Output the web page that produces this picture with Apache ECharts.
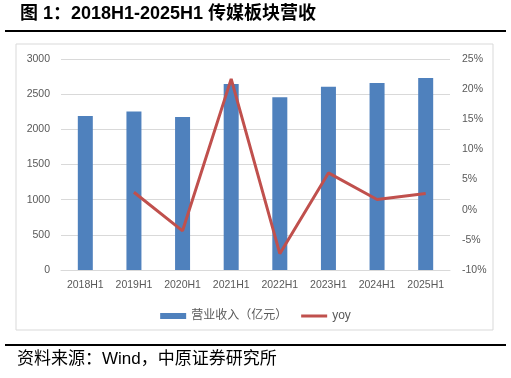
<!DOCTYPE html>
<html>
<head>
<meta charset="utf-8">
<script src="https://cdn.jsdelivr.net/npm/echarts@6/dist/echarts.min.js"></script>
<style>
  html, body { margin: 0; padding: 0; background: #fff; }
  #chart { width: 511px; height: 378px; }
</style>
</head>
<body>
<div id="chart"></div>
<script>
// data
const categories = ['2018H1', '2019H1', '2020H1', '2021H1', '2022H1', '2023H1', '2024H1', '2025H1'];
const revenue = [2190, 2255, 2175, 2645, 2455, 2607, 2660, 2730];
const yoy = [null, 2.9, -3.5, 21.7, -7.3, 6.1, 1.7, 2.7];

const cjk = '"Liberation Sans", "Noto Sans CJK SC", sans-serif';
const axisLabel = { color: '#595959', fontSize: 10.5, fontFamily: cjk };

const chart = echarts.init(document.getElementById('chart'), null, { renderer: 'canvas' });

// thin line icon for the yoy legend entry (tiny slivers keep the 6px box)
const lineIcon = 'path://M0,0H26V0.01H0Z M0,1.5H26V4.5H0Z M0,5.99H26V6H0Z';

const option = {
   animation: false,
   backgroundColor: '#fff',
   graphic: [
      {
         type: 'text', left: 20, top: 5,
         style: { text: '图 1：2018H1-2025H1 传媒板块营收', font: 'bold 18px ' + cjk, fill: '#000' }
      },
      { type: 'rect', shape: { x: 5, y: 30, width: 501, height: 2 }, style: { fill: '#000' } },
      {
         type: 'rect', shape: { x: 16, y: 44, width: 477, height: 286 },
         style: { fill: 'none', stroke: '#d9d9d9', lineWidth: 1 }
      },
      { type: 'rect', shape: { x: 5, y: 344, width: 501, height: 2 }, style: { fill: '#000' } },
      {
         type: 'text', left: 17, top: 351,
         style: { text: '资料来源：Wind，中原证券研究所', font: '17px ' + cjk, fill: '#000' }
      }
   ],
   grid: { left: 61, right: 61, top: 59, bottom: 108 },
   legend: {
      top: 305,
      left: 'center',
      itemGap: 14,
      itemWidth: 26,
      itemHeight: 6,
      textStyle: { color: '#595959', fontSize: 12, fontFamily: cjk },
      data: [
         { name: '营业收入（亿元）', icon: 'rect' },
         { name: 'yoy', icon: lineIcon, itemStyle: { color: '#c0504d' } }
      ]
   },
   xAxis: {
      type: 'category',
      data: categories,
      axisTick: { show: false },
      axisLine: { lineStyle: { color: '#d9d9d9' } },
      axisLabel: Object.assign({ margin: 10, interval: 0 }, axisLabel)
   },
   yAxis: [
      {
         type: 'value', min: 0, max: 3000, interval: 500,
         axisLabel: Object.assign({ margin: 11, formatter: v => String(v) }, axisLabel),
         splitLine: { lineStyle: { color: '#d9d9d9' } }
      },
      {
         type: 'value', min: -10, max: 25, interval: 5,
         axisLabel: Object.assign({ margin: 12, formatter: '{value}%' }, axisLabel),
         splitLine: { show: false }
      }
   ],
   series: [
      {
         name: '营业收入（亿元）',
         type: 'bar',
         data: revenue,
         barWidth: 15,
         itemStyle: { color: '#4f81bd' }
      },
      {
         name: 'yoy',
         type: 'line',
         yAxisIndex: 1,
         data: yoy,
         symbol: 'none',
         lineStyle: { color: '#c0504d', width: 3 },
         itemStyle: { color: '#c0504d' }
      }
   ]
};

chart.setOption(option);
</script>
</body>
</html>
